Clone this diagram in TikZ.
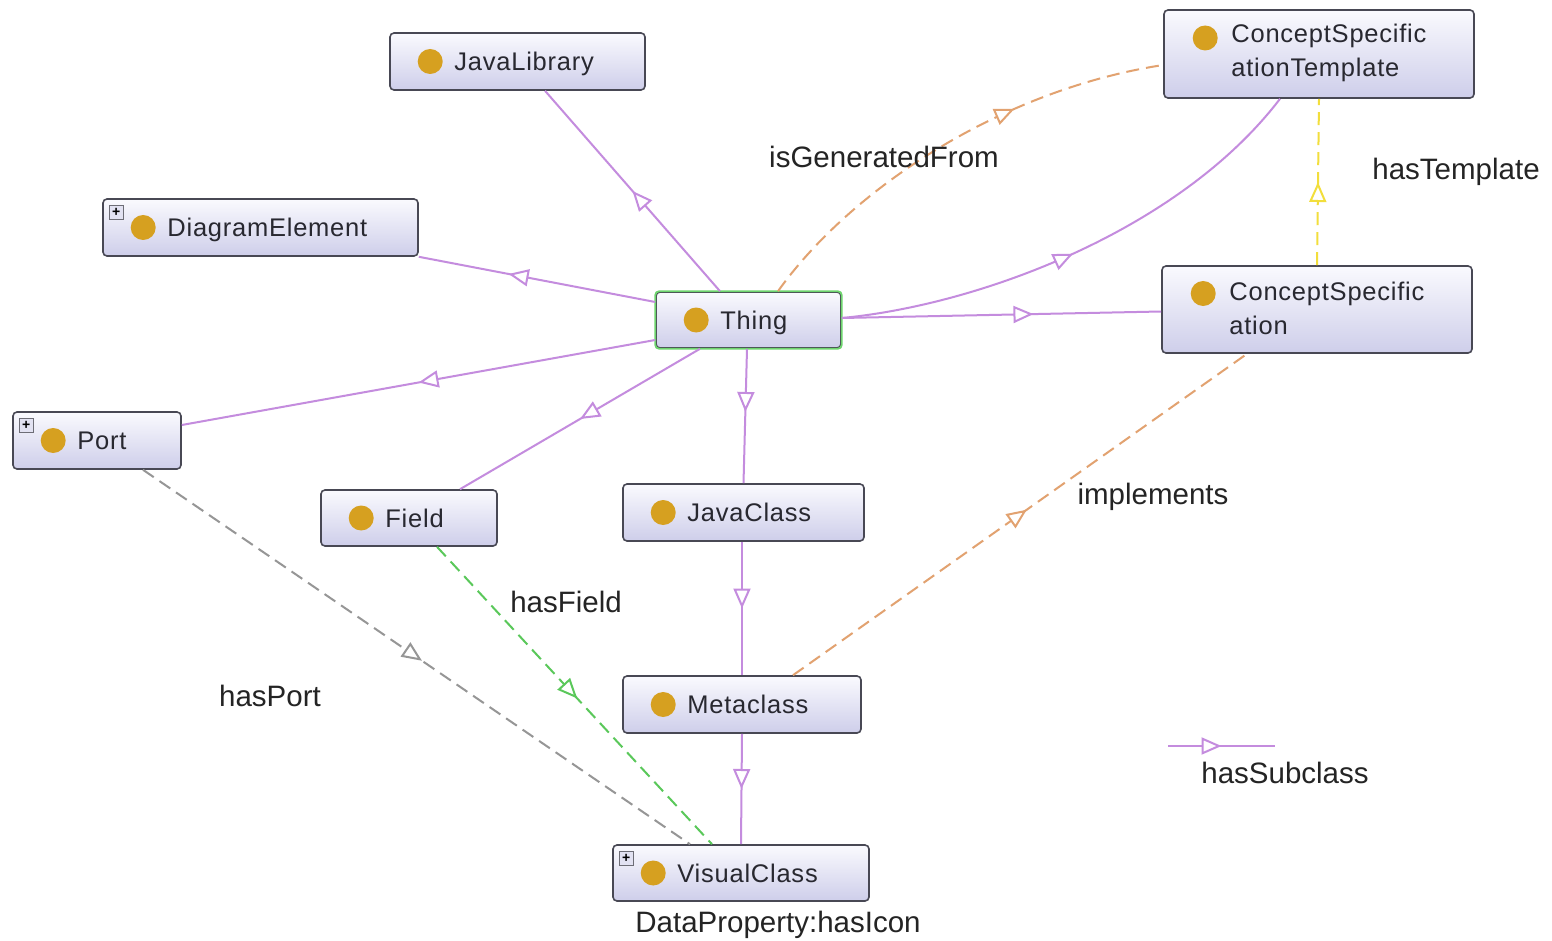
\documentclass[tikz,border=0pt]{standalone}
\usepackage{fontspec}
\setmainfont{Liberation Sans}
\usetikzlibrary{arrows.meta,decorations.markings}

\definecolor{boxborder}{RGB}{72,72,84}
\definecolor{boxtop}{RGB}{250,250,254}
\definecolor{boxbot}{RGB}{206,206,234}
\definecolor{thingborder}{RGB}{110,212,110}
\definecolor{dotc}{RGB}{214,160,32}
\definecolor{textc}{RGB}{40,40,48}
\definecolor{labc}{RGB}{36,36,36}
\definecolor{subc}{RGB}{196,140,222}
\definecolor{orangec}{RGB}{226,162,112}
\definecolor{yellowc}{RGB}{242,222,60}
\definecolor{greenc}{RGB}{90,200,90}
\definecolor{grayc}{RGB}{150,150,150}

\tikzset{
  tri/.tip={Triangle[open,fill=white,length=20pt,width=17pt]},
  classbox/.style={draw=boxborder, line width=1.6pt, rounded corners=4pt,
    top color=boxtop, bottom color=boxbot, inner sep=0pt},
  dot/.style={circle, fill=dotc, minimum size=25pt, inner sep=0pt},
  ctext/.style={font=\fontsize{25.5}{34}\selectfont\addfontfeature{LetterSpace=3}, text=textc, inner sep=0pt, align=left},
  plusbox/.style={draw=boxborder!80, fill=boxbot!60, line width=0.8pt, minimum size=14pt,
    inner sep=0pt, font=\fontsize{14}{14}\selectfont\bfseries},
  elabel/.style={font=\fontsize{29.5}{34}\selectfont, text=labc, inner sep=0pt},
  midarrow/.style={postaction={decorate},
    decoration={markings, mark=at position #1 with {\arrow{tri}}}},
  subcls/.style={draw=subc, line width=2pt, midarrow=#1},
  objprop/.style={line width=2pt, dash pattern=on 13pt off 7pt, midarrow=#1},
}

% class box: name, left, top, right, bottom, label
\newcommand\owlclass[6]{%
  \node[classbox, minimum width={#4pt-#2pt}, minimum height={#5pt-#3pt}]
    (#1) at ({(#2+#4)/2},{(#3+#5)/2}) {};
  \node[dot] (#1-dot) at ([xshift=41pt]#1.west) {};
  \node[ctext, anchor=base west] (#1-txt) at ([xshift=65pt,yshift=-9pt]#1.west) {#6};
}
% two-line class box
\newcommand\owlclasstwo[6]{%
  \node[classbox, minimum width={#4pt-#2pt}, minimum height={#5pt-#3pt}]
    (#1) at ({(#2+#4)/2},{(#3+#5)/2}) {};
  \node[dot] (#1-dot) at ([xshift=42pt,yshift=16pt]#1.west) {};
  \node[ctext, anchor=west] (#1-txt) at ([xshift=68pt,yshift=1pt]#1.west) {#6};
}

\begin{document}
\begin{tikzpicture}[x=1pt,y=-1pt]
\useasboundingbox[fill=white] (0,0) rectangle (1552,941);

% classes
\owlclass{JL}{390}{33}{645}{90}{JavaLibrary}
\owlclass{DE}{103}{199}{418}{256}{DiagramElement}
\owlclass{Thing}{656}{292}{841}{348}{Thing}
\owlclasstwo{CST}{1164}{10}{1474}{98}{ConceptSpecific\\ationTemplate}
\owlclasstwo{CS}{1162}{266}{1472}{353}{ConceptSpecific\\ation}
\owlclass{Port}{13}{412}{181}{469}{Port}
\owlclass{Field}{321}{490}{497}{546}{Field}
\owlclass{JC}{623}{484}{864}{541}{JavaClass}
\owlclass{MC}{623}{676}{861}{733}{Metaclass}
\owlclass{VC}{613}{845}{869}{901}{VisualClass}

% Thing has a green frame
\draw[thingborder, line width=1.8pt, rounded corners=4pt]
  (Thing.north west) rectangle (Thing.south east);

% expand markers
\node[plusbox] (DE-plus) at ([xshift=14pt,yshift=-14pt]DE.north west) {+};
\node[plusbox] (Port-plus) at ([xshift=14pt,yshift=-14pt]Port.north west) {+};
\node[plusbox] (VC-plus) at ([xshift=14pt,yshift=-14pt]VC.north west) {+};

% subclass edges
\draw[subcls=0.5] ([xshift=-28.5pt]Thing.north) -- ([xshift=27.5pt]JL.south);
\draw[subcls=0.62] ([yshift=18pt]Thing.west) -- (DE.south east);
\draw[subcls=0.5] ([yshift=-20pt]Thing.west) -- ([yshift=15.5pt]Port.east);
\draw[subcls=0.5] ([xshift=-48.5pt]Thing.south) -- ([xshift=51pt]Field.north);
\draw[subcls=0.47] ([xshift=-1.5pt]Thing.south) -- (JC.north);
\draw[subcls=0.6] ([yshift=2pt]Thing.east) -- ([yshift=-2pt]CS.west);
\draw[subcls=0.48] ([yshift=2pt]Thing.east) .. controls (980,305) and (1180,230) .. ([xshift=-39pt]CST.south);
\draw[subcls=0.5] ([xshift=-1.5pt]JC.south) -- (MC.north);
\draw[subcls=0.5] (MC.south) -- (VC.north);

% object properties
\draw[objprop=0.66, draw=orangec] ([xshift=29.5pt]Thing.north)
  .. controls (850,190) and (1000,90) .. ([yshift=-11pt]CST.west);
\draw[objprop=0.5, draw=yellowc] (CS.north) -- (CST.south);
\draw[objprop=0.515, draw=orangec] ([xshift=51pt]MC.north) -- ([xshift=-70pt]CS.south);
\draw[objprop=0.51, draw=greenc] ([xshift=28pt]Field.south) -- ([xshift=-29pt]VC.north);
\draw[objprop=0.51, draw=grayc] ([xshift=46pt]Port.south) -- ([xshift=-51pt]VC.north);

% edge labels
\node[elabel] (lbl-gen) at (884,157) {isGeneratedFrom};
\node[elabel] (lbl-tpl) at (1456,172) {hasTemplate};
\node[elabel] (lbl-impl) at (1153,497) {implements};
\node[elabel] (lbl-field) at (566,602) {hasField};
\node[elabel] (lbl-port) at (270,696) {hasPort};
\node[elabel] (lbl-icon) at (778,925) {DataProperty:hasIcon};

% legend
\coordinate (leg-a) at (1168,746);
\coordinate (leg-b) at (1275,746);
\draw[subcls=0.5] (leg-a) -- (leg-b);
\node[elabel] (lbl-sub) at (1285,773) {hasSubclass};
\end{tikzpicture}
\end{document}
